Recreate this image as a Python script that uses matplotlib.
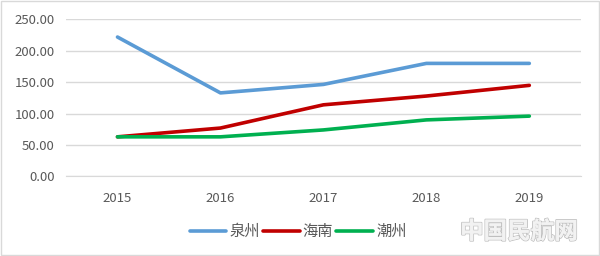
import matplotlib
matplotlib.use("Agg")
import matplotlib.pyplot as plt
from matplotlib.patches import Rectangle
import matplotlib.patheffects as pe

plt.rcParams['font.family'] = ['Noto Sans CJK SC', 'DejaVu Sans']

years = ['2015', '2016', '2017', '2018', '2019']
quanzhou = [222, 133, 146.5, 180, 180]
hainan = [63, 77, 114, 128, 145]
chaozhou = [63, 63, 74, 90, 96]
series_names = ['泉州', '海南', '潮州']
colors = ['#5B9BD5', '#C00000', '#00B050']

fig = plt.figure(figsize=(6, 2.56), dpi=100)
ax = fig.add_axes([0.11, 0.311, 0.858, 0.613])
x = list(range(len(years)))
for vals, name, c in zip([quanzhou, hainan, chaozhou], series_names, colors):
    ax.plot(x, vals, color=c, lw=2.6, label=name, solid_capstyle='round')

ax.set_xlim(-0.5, len(years) - 0.5)
ax.set_ylim(0, 250)
ax.set_yticks([0, 50, 100, 150, 200, 250])
ax.set_yticklabels([f'{v:.2f}' for v in [0, 50, 100, 150, 200, 250]])
ax.set_xticks(x)
ax.set_xticklabels(years)
ax.yaxis.grid(True, color='#D9D9D9', lw=1)
ax.set_axisbelow(True)
for s in ['top', 'right', 'left']:
    ax.spines[s].set_visible(False)
ax.spines['bottom'].set_color('#D9D9D9')
ax.tick_params(axis='both', length=0, colors='#595959', labelsize=9.5)
ax.tick_params(axis='x', pad=11)
ax.tick_params(axis='y', pad=8)

leg = fig.legend(loc='center', bbox_to_anchor=(0.497, 0.095), ncol=3, frameon=False,
                 fontsize=11, handlelength=2.4, columnspacing=0.2, handletextpad=0.2,
                 labelcolor='#595959')

t = fig.text(0.865, 0.095, '中国民航网', fontsize=17, color='#F2F2F2', ha='center', va='center',
             fontweight='bold')
t.set_path_effects([pe.withStroke(linewidth=1.2, foreground='#BFBFBF'), pe.Normal()])

fig.patches.append(Rectangle((0.002, 0.004), 0.996, 0.992, transform=fig.transFigure,
                             fill=False, edgecolor='#D9D9D9', lw=1))
fig.savefig('out.png', dpi=100)
